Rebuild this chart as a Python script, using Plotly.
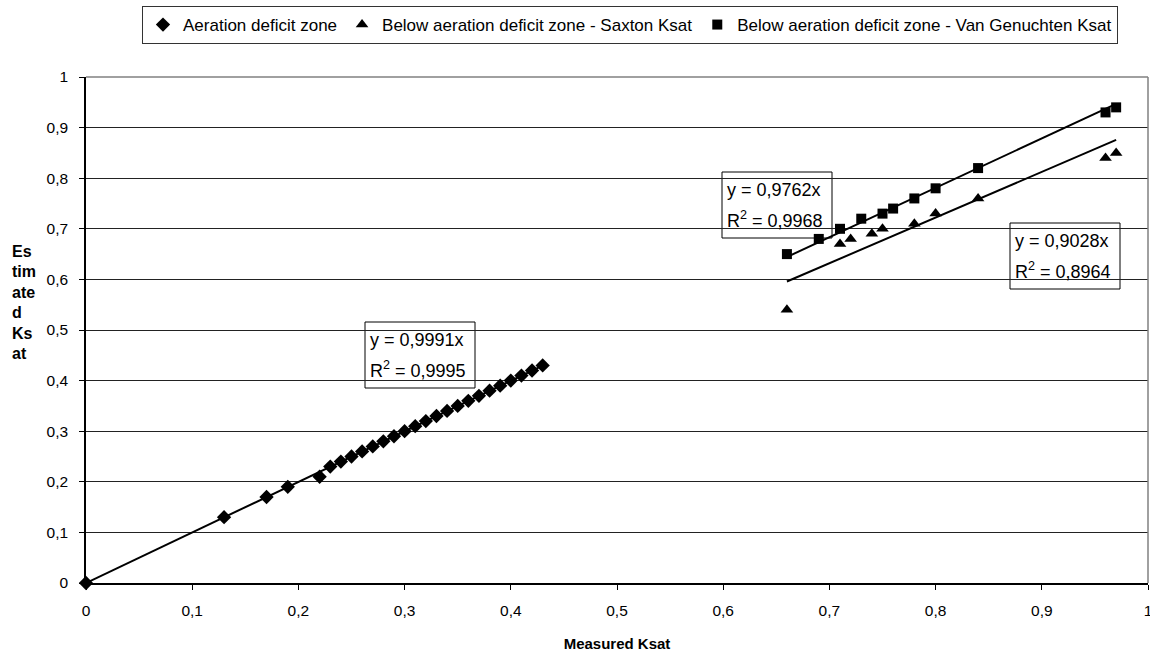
import plotly.graph_objects as go

# ---- data ----
aer_x = [0, 0.13, 0.17, 0.19, 0.22, 0.23, 0.24, 0.25, 0.26, 0.27, 0.28, 0.29, 0.30,
         0.31, 0.32, 0.33, 0.34, 0.35, 0.36, 0.37, 0.38, 0.39, 0.40, 0.41, 0.42, 0.43]
aer_y = [0, 0.13, 0.17, 0.19, 0.21, 0.23, 0.24, 0.25, 0.26, 0.27, 0.28, 0.29, 0.30,
         0.31, 0.32, 0.33, 0.34, 0.35, 0.36, 0.37, 0.38, 0.39, 0.40, 0.41, 0.42, 0.43]

sax_x = [0.66, 0.71, 0.72, 0.74, 0.75, 0.78, 0.80, 0.84, 0.96, 0.97]
sax_y = [0.54, 0.67, 0.68, 0.69, 0.70, 0.71, 0.73, 0.76, 0.84, 0.85]

vg_x = [0.66, 0.69, 0.71, 0.73, 0.75, 0.76, 0.78, 0.80, 0.84, 0.96, 0.97]
vg_y = [0.65, 0.68, 0.70, 0.72, 0.73, 0.74, 0.76, 0.78, 0.82, 0.93, 0.94]

series_names = ["Aeration deficit zone",
                "Below aeration deficit zone - Saxton Ksat",
                "Below aeration deficit zone - Van Genuchten Ksat"]
slopes = [0.9991, 0.9028, 0.9762]
r2 = [0.9995, 0.8964, 0.9968]
eq_lines = [["y = 0,9991x", "R<sup>2</sup> = 0,9995"],
            ["y = 0,9028x", "R<sup>2</sup> = 0,8964"],
            ["y = 0,9762x", "R<sup>2</sup> = 0,9968"]]
ytitle_lines = ["Es", "tim", "ate", "d", "Ks", "at"]
x_title = "Measured Ksat"
tick_vals = [0, 0.1, 0.2, 0.3, 0.4, 0.5, 0.6, 0.7, 0.8, 0.9, 1.0]
tick_text = ["0", "0,1", "0,2", "0,3", "0,4", "0,5", "0,6", "0,7", "0,8", "0,9", "1"]

FONT = "Liberation Sans, Arial, sans-serif"
# plot area in pixels
PL, PR, PT, PB = 86, 1148, 77, 583
PW, PH = PR - PL, PB - PT


def px_x(p):
    return (p - PL) / PW


def px_y(p):
    return (PB - p) / PH


fig = go.Figure()

data = [(aer_x, aer_y, "diamond", 11), (sax_x, sax_y, "triangle-up", 11), (vg_x, vg_y, "square", 10)]

# trend lines (through origin)
for (xs, ys, sym, sz), m in zip(data, slopes):
    x0, x1 = min(xs), max(xs)
    fig.add_trace(go.Scatter(x=[x0, x1], y=[m * x0, m * x1], mode="lines",
                             line=dict(color="black", width=2), showlegend=False,
                             hoverinfo="skip", cliponaxis=False))

for (xs, ys, sym, sz), name in zip(data, series_names):
    fig.add_trace(go.Scatter(x=xs, y=ys, mode="markers", name=name,
                             marker=dict(symbol=sym, size=sz, color="black"),
                             cliponaxis=False))

# equation boxes: top-left corner in pixels (layout only)
box_pix = [(365, 322), (1010, 223), (722, 172)]
BW, BH = 110, 66
for (bx, by), lines in zip(box_pix, eq_lines):
    fig.add_shape(type="rect", xref="paper", yref="paper",
                  x0=px_x(bx), x1=px_x(bx + BW), y0=px_y(by + BH), y1=px_y(by),
                  line=dict(color="black", width=1), fillcolor="white", layer="between")
    for i, t in enumerate(lines):
        fig.add_annotation(xref="paper", yref="paper", x=px_x(bx + 3),
                           y=px_y(by + 18 + 29 * i), text=t, showarrow=False,
                           xanchor="left", yanchor="middle",
                           font=dict(family=FONT, size=18, color="black"))

# y-axis title, wrapped as in the original
for i, t in enumerate(ytitle_lines):
    fig.add_annotation(xref="paper", yref="paper", x=px_x(10),
                       y=px_y(251 + 20.5 * i), text=t, showarrow=False,
                       xanchor="left", yanchor="middle",
                       font=dict(family=FONT, size=16, color="black", weight="bold"))

# gray top / right border
fig.add_shape(type="line", xref="paper", yref="paper", x0=0, x1=1, y0=1, y1=1,
              line=dict(color="#808080", width=1.5), layer="above")
fig.add_shape(type="line", xref="paper", yref="paper", x0=1, x1=1, y0=0, y1=1,
              line=dict(color="#808080", width=1.5), layer="above")

fig.update_layout(
    width=1150, height=657,
    margin=dict(l=PL, r=1150 - PR, t=PT, b=657 - PB, autoexpand=False),
    paper_bgcolor="white", plot_bgcolor="white",
    font=dict(family=FONT, size=15, color="black"),
    legend=dict(orientation="h", x=px_x(630), xanchor="center", y=px_y(6), yanchor="top",
                bordercolor="#333333", borderwidth=1, itemwidth=30,
                font=dict(family=FONT, size=17, color="black"),
                tracegroupgap=0),
    xaxis=dict(range=[0, 1], tickmode="array", tickvals=tick_vals, ticktext=tick_text,
               showgrid=False, zeroline=False, automargin=False,
               showline=True, linecolor="black", linewidth=1.5,
               ticks="outside", ticklen=5, tickcolor="black",
               ticklabelstandoff=8, ticklabeloverflow="allow",
               tickfont=dict(family=FONT, size=15.5),
               title=dict(text=x_title, standoff=20,
                          font=dict(family=FONT, size=15, weight="bold"))),
    yaxis=dict(range=[0, 1], tickmode="array", tickvals=tick_vals, ticktext=tick_text,
               showgrid=True, gridcolor="#222222", automargin=False,
               gridwidth=1, zeroline=False,
               showline=True, linecolor="black", linewidth=1.5,
               ticks="outside", ticklen=5, tickcolor="black",
               ticklabelstandoff=8, ticklabeloverflow="allow",
               tickfont=dict(family=FONT, size=15.5)),
)

fig.write_html("out.html")
